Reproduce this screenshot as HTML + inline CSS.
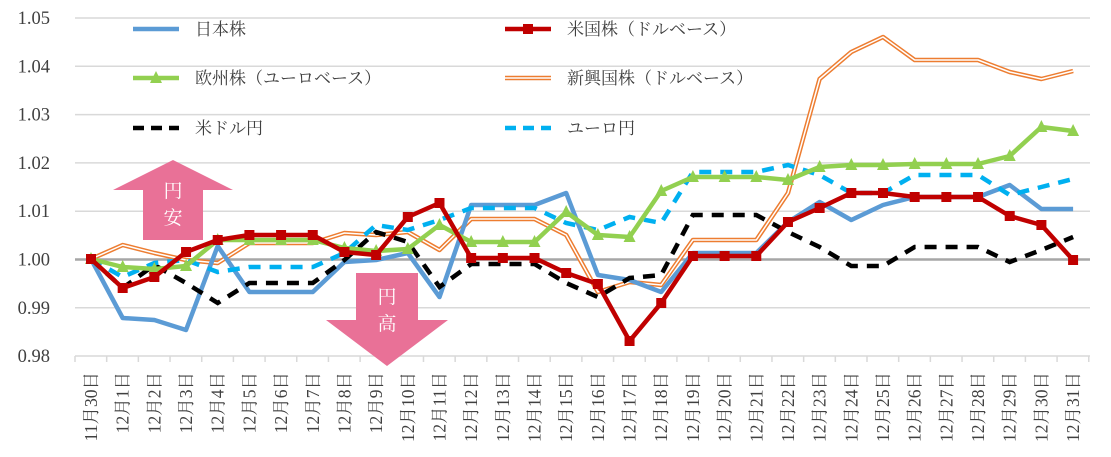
<!DOCTYPE html>
<html><head><meta charset="utf-8"><style>
body{margin:0;background:#fff;}
svg text{font-family:"Liberation Serif","Noto Serif CJK SC","Noto Sans CJK JP",serif;}
</style></head><body>
<svg id="c" width="1111" height="452" viewBox="0 0 1111 452" xmlns="http://www.w3.org/2000/svg"></svg>
<script>
const s=document.getElementById('c');let h='';
const yv=v=>259.5-(v-1)*4830;
const grid=[1.05,1.04,1.03,1.02,1.01,0.99];
grid.forEach(v=>{h+=`<line x1="75" x2="1090" y1="${yv(v)}" y2="${yv(v)}" stroke="#D9D9D9" stroke-width="1.5"/>`;});
h+=`<line x1="75" x2="1090" y1="356" y2="356" stroke="#D9D9D9" stroke-width="1.5"/>`;
[1.05,1.04,1.03,1.02,1.01,1.00,0.99,0.98].forEach(v=>{h+=`<text x="50" y="${yv(v)+6}" font-size="18.5" text-anchor="end" fill="#404040">${v.toFixed(2)}</text>`;});
const X=i=>91+i*31.68;
for(let i=0;i<=32;i++){const x=75+i*31.68;h+=`<line x1="${x}" x2="${x}" y1="356" y2="362" stroke="#D9D9D9" stroke-width="1.5"/>`;}
const labs=['11月30日'];for(let d=1;d<=31;d++)labs.push('12月'+d+'日');
labs.forEach((l,i)=>{h+=`<text transform="translate(${X(i)+6},372) rotate(-90)" font-size="17.5" text-anchor="end" fill="#404040">${l}</text>`;});
// arrows
h+=`<polygon points="173,160 233,190 203,190 203,240 143,240 143,190 113,190" fill="#E97197"/>`;
h+=`<text x="173" y="197" font-size="19" fill="#fff" text-anchor="middle">円</text><text x="173" y="224" font-size="19" fill="#fff" text-anchor="middle">安</text>`;
h+=`<polygon points="356,273 418,273 418,320 448,320 387,366 326,320 356,320" fill="#E97197"/>`;
h+=`<text x="387" y="303" font-size="19" fill="#fff" text-anchor="middle">円</text><text x="387" y="330" font-size="19" fill="#fff" text-anchor="middle">高</text>`;
h+=`<line x1="75" x2="1090" y1="259.5" y2="259.5" stroke="#A6A6A6" stroke-width="2.5"/>`;
const blue=[259,318,320,330,246,292,292,292,262,260,253,297,205,205,205,193,275,280,292,253,253,253,222,202,220,205,197,197,197,185,209,209];
const red=[259,288,277,252,240,235,235,235,252,255,217,203,258,258,258,273,284,341,303,256,256,256,222,208,193,193,197,197,197,216,225,260];
const green=[259,267,269,266,240,240,240,240,248,251,249,225,242,242,242,212,235,237,191,177,177,177,180,167,165,165,164,164,164,156,127,131];
const orange=[259,245,253,260,263,243,243,243,233,235,232,250,219,219,219,235,292,282,285,240,240,240,193,79,52,37,60,60,60,72,79,71];
const black=[259,288,265,283,303,283,283,283,260,232,242,287,264,264,264,283,297,278,275,215,215,215,232,247,266,266,247,247,247,262,250,237];
const cyan=[259,277,263,260,272,267,267,267,253,225,230,220,208,208,208,223,230,217,223,172,172,172,165,175,193,193,175,175,175,195,187,179];
const pts=a=>a.map((y,i)=>X(i).toFixed(1)+','+y).join(' ');
h+=`<polyline points="${pts(orange)}" fill="none" stroke="#ED7D31" stroke-width="4.5" stroke-linejoin="round"/>`;
h+=`<polyline points="${pts(orange)}" fill="none" stroke="#fff" stroke-width="1.5" stroke-linejoin="round"/>`;
h+=`<polyline points="${pts(blue)}" fill="none" stroke="#5B9BD5" stroke-width="4.5" stroke-linejoin="round"/>`;
h+=`<polyline points="${pts(black)}" fill="none" stroke="#000" stroke-width="4.5" stroke-dasharray="12,9"/>`;
h+=`<polyline points="${pts(cyan)}" fill="none" stroke="#00B0F0" stroke-width="4.5" stroke-dasharray="12,9"/>`;
h+=`<polyline points="${pts(green)}" fill="none" stroke="#92D050" stroke-width="4.5" stroke-linejoin="round"/>`;
green.forEach((y,i)=>{const x=X(i);h+=`<polygon points="${x},${y-7} ${x+6},${y+5} ${x-6},${y+5}" fill="#92D050"/>`;});
h+=`<polyline points="${pts(red)}" fill="none" stroke="#C00000" stroke-width="4.5" stroke-linejoin="round"/>`;
red.forEach((y,i)=>{h+=`<rect x="${X(i)-5}" y="${y-5}" width="10" height="10" fill="#C00000"/>`;});
// legend
const L=(x,y,t,type)=>{
 if(type=='blue')h+=`<line x1="${x}" x2="${x+46}" y1="${y}" y2="${y}" stroke="#5B9BD5" stroke-width="4.5"/>`;
 if(type=='red')h+=`<line x1="${x}" x2="${x+46}" y1="${y}" y2="${y}" stroke="#C00000" stroke-width="4.5"/><rect x="${x+18}" y="${y-5}" width="10" height="10" fill="#C00000"/>`;
 if(type=='green')h+=`<line x1="${x}" x2="${x+46}" y1="${y}" y2="${y}" stroke="#92D050" stroke-width="4.5"/><polygon points="${x+23},${y-7} ${x+29},${y+5} ${x+17},${y+5}" fill="#92D050"/>`;
 if(type=='orange')h+=`<line x1="${x}" x2="${x+46}" y1="${y}" y2="${y}" stroke="#ED7D31" stroke-width="4.5"/><line x1="${x}" x2="${x+46}" y1="${y}" y2="${y}" stroke="#fff" stroke-width="1.5"/>`;
 if(type=='black')h+=`<line x1="${x}" x2="${x+46}" y1="${y}" y2="${y}" stroke="#000" stroke-width="4.5" stroke-dasharray="11,7"/>`;
 if(type=='cyan')h+=`<line x1="${x}" x2="${x+46}" y1="${y}" y2="${y}" stroke="#00B0F0" stroke-width="4.5" stroke-dasharray="11,7"/>`;
 h+=`<text x="${x+62}" y="${y+6}" font-size="17" fill="#404040">${t}</text>`;
};
L(133,29,'日本株','blue');L(505,29,'米国株（ドルベース）','red');
L(133,78,'欧州株（ユーロベース）','green');L(505,78,'新興国株（ドルベース）','orange');
L(133,128,'米ドル円','black');L(505,128,'ユーロ円','cyan');
s.innerHTML=h;
</script>
</body></html>
